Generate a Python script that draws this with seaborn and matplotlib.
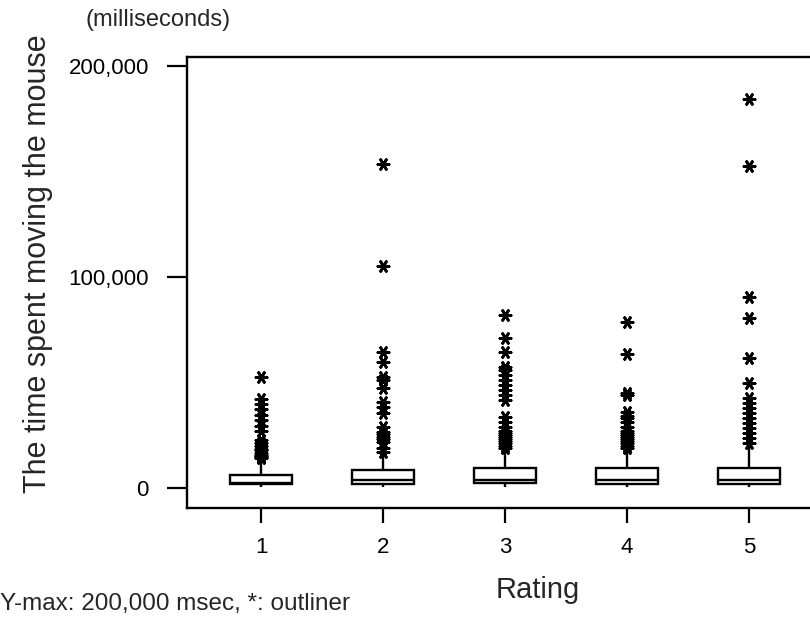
import numpy as np
import pandas as pd
import matplotlib
matplotlib.use('Agg')
import matplotlib.pyplot as plt
import seaborn as sns

# ratings on the x axis
ratings = ['1', '2', '3', '4', '5']

# five-number summary of each box (msec): low whisker, q1, median, q3, high whisker
whisker_low = [300, 300, 300, 400, 400]
q1 = [1900, 1900, 2100, 1900, 1900]
median = [2400, 3650, 3650, 3650, 3650]
q3 = [5900, 8400, 9200, 9500, 9500]
whisker_high = [13100, 15500, 17100, 17900, 19400]

# outliers (msec)
outliers_1 = [52600, 41900, 39700, 37300, 34500, 32100, 29400, 27000, 22600,
              21000, 19800, 18500, 17900, 16500, 15500, 15000, 14500, 14100]
outliers_2 = [153300, 105000, 64500, 59700, 52600, 51000, 47100, 40800, 38400,
              35300, 28900, 26500, 25500, 24200, 23000, 21800, 18700, 17100]
outliers_3 = [81800, 70800, 64500, 57400, 55800, 53400, 51000, 48700, 46300,
              43900, 41600, 33700, 31300, 28900, 27000, 26000, 25000, 24000,
              23000, 22000, 21000, 20000, 18700]
outliers_4 = [78400, 63400, 45000, 44000, 36000, 34000, 33000, 31000, 29000,
              27000, 26000, 25000, 24000, 23000, 22000, 21000, 20000, 19000]
outliers_5 = [184100, 152500, 90500, 80600, 61600, 49500, 42400, 40300, 37600,
              35300, 32900, 30500, 28200, 25800, 23400, 21000]
outliers = [outliers_1, outliers_2, outliers_3, outliers_4, outliers_5]

# long-form tables
box_rows = []
for i, r in enumerate(ratings):
    for v in (whisker_low[i], q1[i], median[i], q3[i], whisker_high[i]):
        box_rows.append({'rating': r, 'ms': v})
box_df = pd.DataFrame(box_rows)

out_rows = []
for r, vals in zip(ratings, outliers):
    for v in vals:
        out_rows.append({'rating': r, 'ms': v})
out_df = pd.DataFrame(out_rows)

sns.set_theme(style='white')
plt.rcParams['font.family'] = ['Liberation Sans', 'DejaVu Sans']

W, H = 810, 622
fig = plt.figure(figsize=(W / 100, H / 100), dpi=100)
ax = fig.add_axes([187 / W, 1 - 508 / H, (823 - 187) / W, (508 - 57) / H])

sns.boxplot(data=box_df, x='rating', y='ms', order=ratings, whis=(0, 100),
            showfliers=False, showcaps=False, width=0.51, color='white',
            linecolor='black', linewidth=1.7, ax=ax)
sns.stripplot(data=out_df, x='rating', y='ms', order=ratings, jitter=False,
              marker=(6, 2, 90), size=8, color='black', edgecolor='black',
              linewidth=2, ax=ax)

ax.set_xlim(-0.607, 4.607)
ax.set_ylim(-9600, 204100)
ax.set_yticks([0, 100000, 200000])
ax.set_yticklabels(['0', '100,000', '200,000'])
ax.set_xlabel('')
ax.set_ylabel('')

for side in ['top', 'left', 'bottom']:
    ax.spines[side].set_visible(True)
    ax.spines[side].set_color('black')
    ax.spines[side].set_linewidth(1.7)
ax.spines['right'].set_visible(False)

ax.tick_params(axis='y', left=True, length=14.5, width=1.6, pad=13,
               labelsize=16, colors='black')
ax.tick_params(axis='x', bottom=True, length=11, width=1.6, pad=10,
               labelsize=16, colors='black')

fig.text(158 / W, 1 - 20 / H, '(milliseconds)', ha='center', va='center',
         fontsize=17)
fig.text(38 / W, 1 - 264 / H, 'The time spent moving the mouse', rotation=90,
         ha='center', va='center', fontsize=22)
fig.text(538 / W, 1 - 590 / H, 'Rating', ha='center', va='center', fontsize=21)
fig.text(0, 1 - 604 / H, 'Y-max: 200,000 msec, *: outliner', ha='left',
         va='center', fontsize=17.5)

fig.savefig('out.png', dpi=100)
